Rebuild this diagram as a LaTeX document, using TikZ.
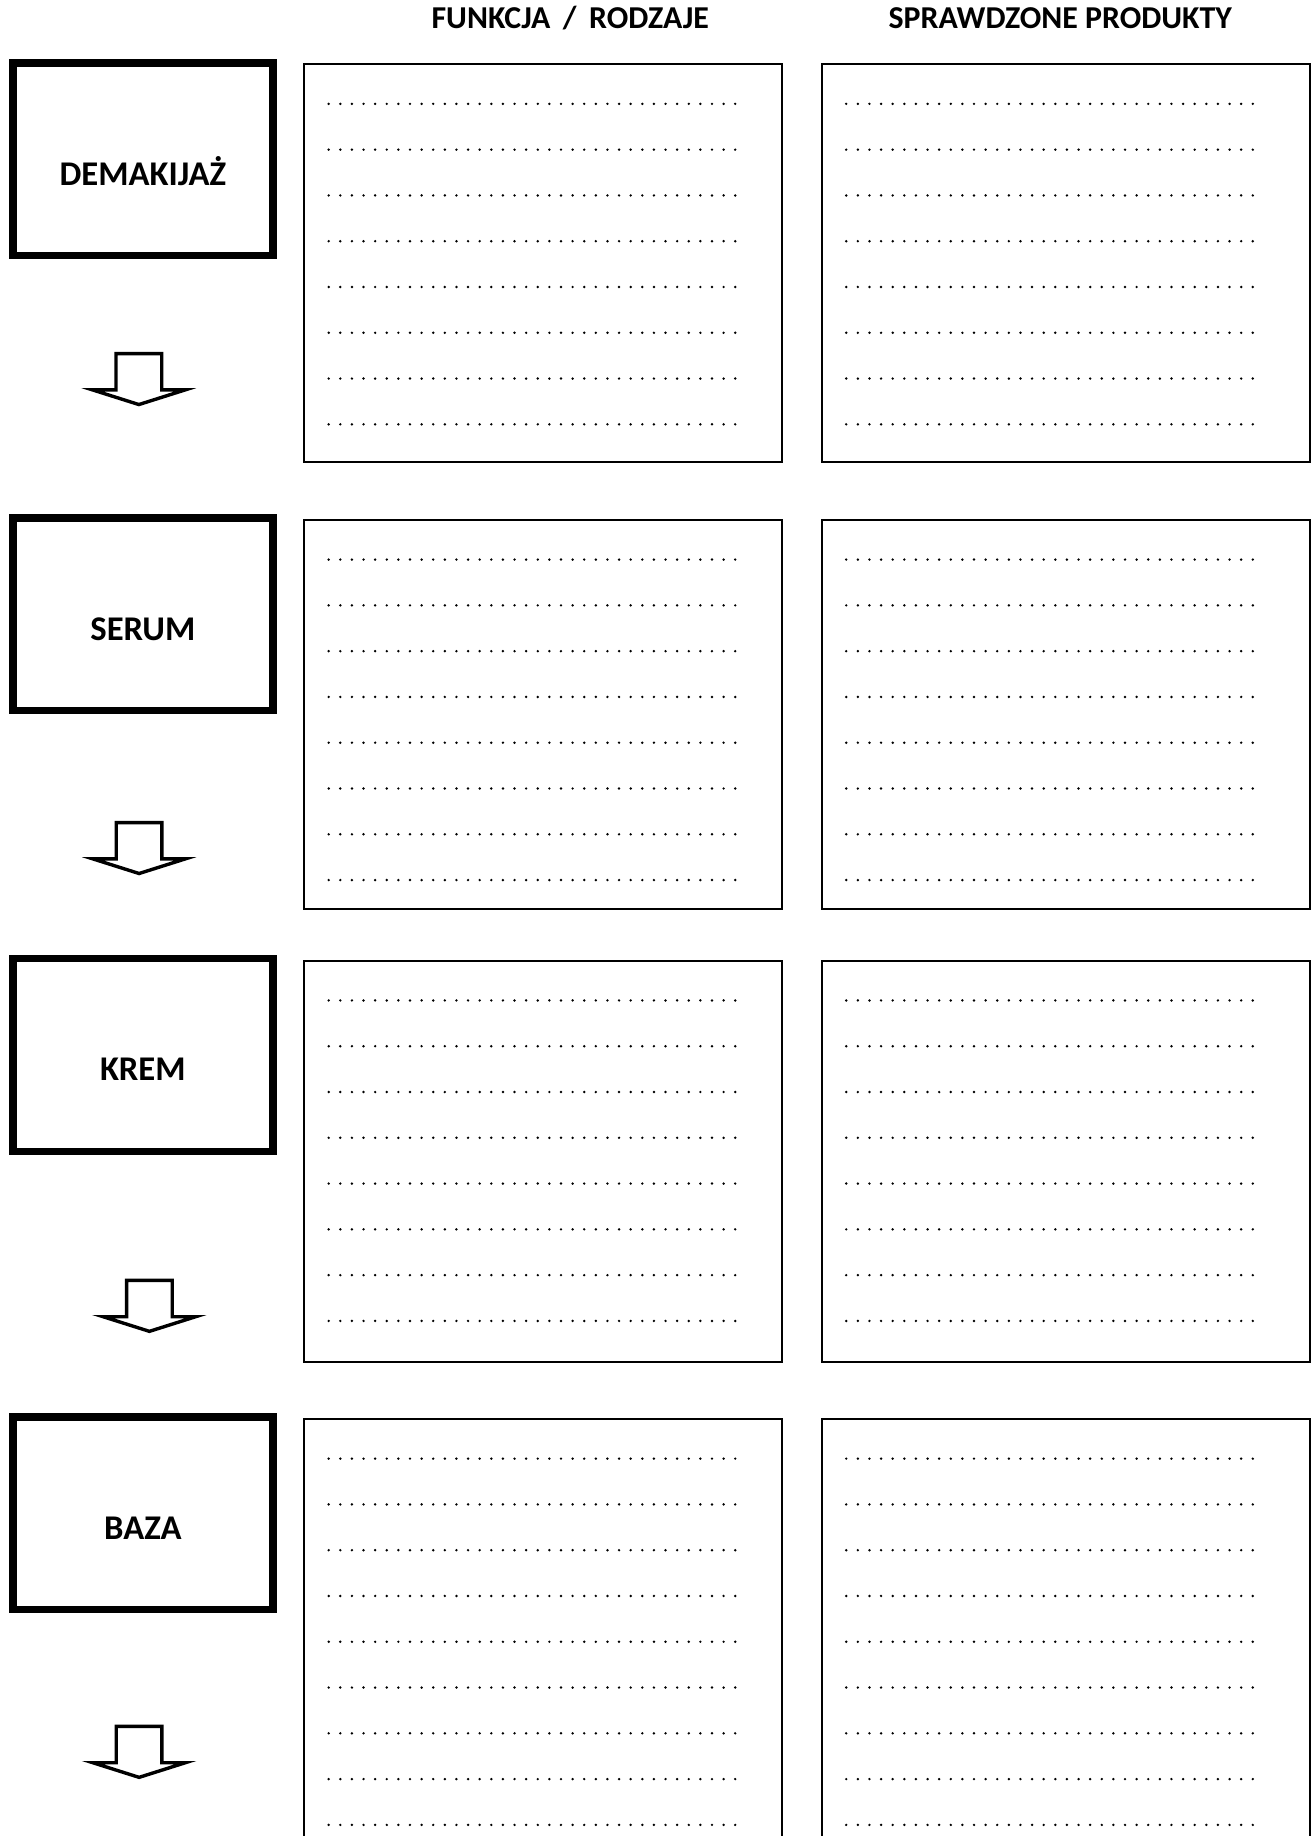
\documentclass[tikz,border=0pt]{standalone}
\usepackage{fontspec}
\setmainfont{Carlito}

\begin{document}
\begin{tikzpicture}[
  x=0.5pt, y=-0.5pt,
  stepbox/.style={draw, line width=3.15pt, minimum width=111pt, minimum height=82.25pt,
    inner sep=0pt, font=\fontsize{14.8}{17}\selectfont\bfseries, text height=22pt, text depth=0pt},
  notebox/.style={draw, line width=0.8pt, inner sep=0pt, anchor=north west},
  header/.style={anchor=base, inner sep=0pt, font=\fontsize{13.6}{16}\selectfont\bfseries},
  dots/.style={line width=1.15pt, line cap=round, dash pattern=on 0pt off 4.96pt},
  flowarrow/.pic={
    \draw[line width=1.45pt] (-19.5,0) -- (19.5,0) -- (19.5,31) -- (39.5,31)
      -- (0,43.5) -- (-39.5,31) -- (-19.5,31) -- cycle;
  }
]
  \useasboundingbox (0,0) rectangle (1122,1568);
  \clip (0,0) rectangle (1122,1568);

  % column headers
  \node[header] (hfun) at (487,24) {FUNKCJA \,/\, RODZAJE};
  \node[header] (hprod) at (905.5,24) {SPRAWDZONE PRODUKTY};

  % steps
  \node[stepbox] (demakijaz) at (122,136) {DEMAKIJAŻ};
  \node[stepbox] (serum) at (122,524.7) {SERUM};
  \node[stepbox] (krem) at (122,900.9) {KREM};
  \node[stepbox] (baza) at (122,1292.5) {BAZA};

  % arrows between steps
  \pic at (118.6,302) {flowarrow};
  \pic at (118.8,702.5) {flowarrow};
  \pic at (127.6,1093.5) {flowarrow};
  \pic at (118.8,1474.4) {flowarrow};

  % boxes to fill in
  \node[notebox, minimum width=204pt, minimum height=169.7pt] (fun1) at (259,54) {};
  \node[notebox, minimum width=208.5pt, minimum height=169.7pt] (prod1) at (701,54) {};
  \node[notebox, minimum width=204pt, minimum height=166.2pt] (fun2) at (259,443.2) {};
  \node[notebox, minimum width=208.5pt, minimum height=166.2pt] (prod2) at (701,443.2) {};
  \node[notebox, minimum width=204pt, minimum height=171.4pt] (fun3) at (259,819.7) {};
  \node[notebox, minimum width=208.5pt, minimum height=171.4pt] (prod3) at (701,819.7) {};
  \node[notebox, minimum width=204pt, minimum height=200pt] (fun4) at (259,1211) {};
  \node[notebox, minimum width=208.5pt, minimum height=200pt] (prod4) at (701,1211) {};

  % dotted writing lines
  \foreach \b/\n in {fun1/7, prod1/7, fun2/7, prod2/7, fun3/7, prod3/7, fun4/9, prod4/9}
    \foreach \k in {0,...,\n}
      \draw[dots] (\b.north west) ++(21.7,34.7+39.1*\k) -- ++(347.2,0);
\end{tikzpicture}
\end{document}
